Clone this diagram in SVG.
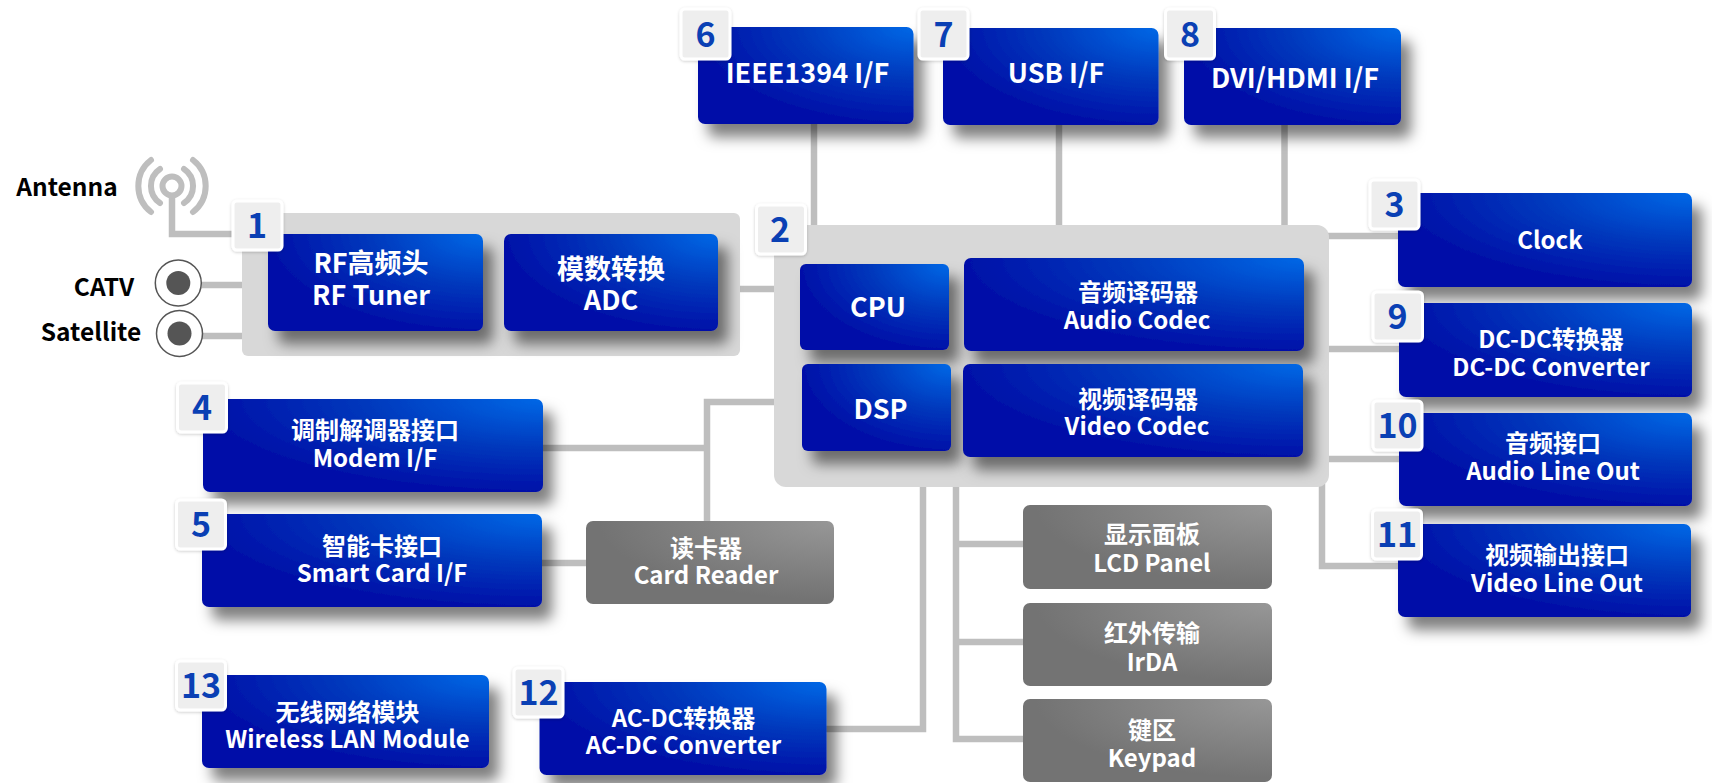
<svg xmlns="http://www.w3.org/2000/svg" width="1712" height="783" viewBox="0 0 1712 783">
<style>
text{font-family:"Noto Sans CJK SC","Noto Sans",sans-serif;font-weight:700;text-anchor:middle;fill:#fff;font-size:24px}
.big{font-size:27px}
.lab{fill:#000;font-size:24.500px}
.num{fill:#0a40b4;font-size:34px}
.b{fill:url(#blue);filter:url(#sh)}
.g{fill:url(#gray)}
.panel{fill:#d8d8d8}
.badge{fill:#eeeeee;stroke:#fff;stroke-width:3;filter:url(#bs)}
.c{fill:none;stroke:#bebebe;stroke-width:6.5}
.a{fill:none;stroke:#bebebe;stroke-width:6;stroke-linecap:round}
</style>
<defs>
<radialGradient id="blue" cx="1" cy="0" r="1.050"><stop offset="0" stop-color="#0068e6"/><stop offset=".5" stop-color="#0238bc"/><stop offset=".95" stop-color="#0010a8"/></radialGradient>
<radialGradient id="gray" cx="1" cy="0" r="1"><stop offset="0" stop-color="#979797"/><stop offset=".95" stop-color="#737373"/></radialGradient>
<filter id="sh" x="-10%" y="-10%" width="130%" height="170%"><feDropShadow dx="10" dy="13" stdDeviation="7" flood-color="#000" flood-opacity=".5"/></filter>
<filter id="bs" x="-20%" y="-20%" width="140%" height="140%"><feDropShadow dx="0" dy="1" stdDeviation="1.500" flood-color="#000" flood-opacity=".2"/></filter>
</defs>
<rect width="1712" height="783" fill="#fff"/>
<g id="connectors">
<path class="c" d="M172 197V234H235M202 285H245M202 336H245M740 289H776M814 124V228M1059 125V228M1284.500 125V228M1326 236H1400M1326 349H1400M1326 459H1400M1322 484V566H1400M776 402H707V524M543 448H707M542 563H588M923 484V729H826M956 484V739H1025M956 544H1025M956 642H1025"/>
</g>
<g id="antenna-icon">
<circle cx="172" cy="186" r="9.500" class="a"/>
<path class="a" d="M160 169A20.500 20.500 0 0 0 160 203M184 169A20.500 20.500 0 0 1 184 203M151 160A33 33 0 0 0 151 212M193 160A33 33 0 0 1 193 212"/>
<text class="lab" x="67" y="196">Antenna</text>
</g>
<g id="catv"><circle cx="178.300" cy="283" r="23" fill="#fff" stroke="#555" stroke-width="1.500"/><circle cx="178.300" cy="283" r="12" fill="#555"/><text class="lab" x="104" y="296">CATV</text></g>
<g id="satellite"><circle cx="179.500" cy="333.500" r="23" fill="#fff" stroke="#555" stroke-width="1.500"/><circle cx="179.500" cy="333.500" r="12" fill="#555"/><text class="lab" x="91" y="341">Satellite</text></g>

<g id="node-1">
<rect class="panel" x="242" y="213" width="498" height="143" rx="6"/>
<rect class="b" x="268" y="234" width="215" height="97" rx="7"/>
<text class="big" x="371" y="273">RF高频头</text><text class="big" x="371" y="305">RF Tuner</text>
<rect class="b" x="504" y="234" width="214" height="97" rx="7"/>
<text class="big" x="611" y="279">模数转换</text><text class="big" x="611" y="310">ADC</text>
<rect class="badge" x="233" y="201" width="49" height="49" rx="4"/><text class="num" x="257" y="238">1</text>
</g>
<g id="node-2">
<rect class="panel" x="774" y="225" width="555" height="262" rx="12"/>
<rect class="b" x="800" y="264" width="149" height="86" rx="6"/><text class="big" x="878" y="317">CPU</text>
<rect class="b" x="964" y="258" width="340" height="93" rx="7"/>
<text x="1138" y="301">音频译码器</text><text x="1137" y="329">Audio Codec</text>
<rect class="b" x="802" y="364" width="149" height="87" rx="6"/><text class="big" x="880.500" y="419">DSP</text>
<rect class="b" x="963" y="364" width="340" height="93" rx="7"/>
<text x="1138" y="408">视频译码器</text><text x="1137" y="435">Video Codec</text>
<rect class="badge" x="756.500" y="205" width="49" height="49" rx="4"/><text class="num" x="780" y="242">2</text>
</g>
<g id="node-3"><rect class="b" x="1398" y="193" width="294" height="94" rx="7"/><text x="1550" y="249">Clock</text><rect class="badge" x="1370" y="180" width="49" height="49" rx="4"/><text class="num" x="1394.500" y="217">3</text></g>
<g id="node-4"><rect class="b" x="203" y="399" width="340" height="93" rx="7"/><text x="375" y="439">调制解调器接口</text><text x="375" y="467">Modem I/F</text><rect class="badge" x="177.500" y="383" width="49" height="49" rx="4"/><text class="num" x="202" y="420">4</text></g>
<g id="node-5"><rect class="b" x="202" y="514" width="340" height="93" rx="7"/><text x="382" y="555">智能卡接口</text><text x="382" y="582">Smart Card I/F</text><rect class="badge" x="176.500" y="500" width="49" height="49" rx="4"/><text class="num" x="201" y="537">5</text></g>
<g id="node-6"><rect class="b" x="698" y="27" width="215.500" height="97" rx="7"/><text class="big" x="807.500" y="83">IEEE1394 I/F</text><rect class="badge" x="681" y="9" width="49" height="50" rx="4"/><text class="num" x="705.500" y="47">6</text></g>
<g id="node-7"><rect class="b" x="943" y="28" width="215.500" height="97" rx="7"/><text class="big" x="1056" y="83">USB I/F</text><rect class="badge" x="919" y="9" width="49" height="50" rx="4"/><text class="num" x="943.500" y="47">7</text></g>
<g id="node-8"><rect class="b" x="1184" y="28" width="217" height="97" rx="7"/><text class="big" x="1295" y="88">DVI/HDMI I/F</text><rect class="badge" x="1165.500" y="9" width="49" height="50" rx="4"/><text class="num" x="1190" y="47">8</text></g>
<g id="node-9"><rect class="b" x="1399" y="303" width="293" height="94" rx="7"/><text x="1551" y="348">DC-DC转换器</text><text x="1551" y="376">DC-DC Converter</text><rect class="badge" x="1373" y="292" width="49.500" height="49" rx="4"/><text class="num" x="1397.500" y="329">9</text></g>
<g id="node-10"><rect class="b" x="1399" y="413" width="293" height="93" rx="7"/><text x="1553" y="452">音频接口</text><text x="1553" y="480">Audio Line Out</text><rect class="badge" x="1373" y="401" width="49" height="49" rx="4"/><text class="num" x="1397.500" y="438">10</text></g>
<g id="node-11"><rect class="b" x="1398" y="524" width="293" height="93" rx="7"/><text x="1557" y="564">视频输出接口</text><text x="1557" y="592">Video Line Out</text><rect class="badge" x="1372.500" y="510" width="49" height="49" rx="4"/><text class="num" x="1397" y="547">11</text></g>
<g id="node-12"><rect class="b" x="539.500" y="682" width="287" height="93" rx="7"/><text x="683.500" y="727">AC-DC转换器</text><text x="683.500" y="754">AC-DC Converter</text><rect class="badge" x="514" y="668" width="49" height="49" rx="4"/><text class="num" x="538.500" y="705">12</text></g>
<g id="node-13"><rect class="b" x="202" y="675" width="287" height="93" rx="7"/><text x="347.500" y="721">无线网络模块</text><text x="347.500" y="748">Wireless LAN Module</text><rect class="badge" x="176.500" y="661" width="49" height="49" rx="4"/><text class="num" x="201" y="698">13</text></g>
<g id="card-reader"><rect class="g" x="586" y="521" width="248" height="83" rx="7"/><text x="706" y="557">读卡器</text><text x="706" y="584">Card Reader</text></g>
<g id="lcd"><rect class="g" x="1023" y="505" width="249" height="84" rx="7"/><text x="1152" y="543">显示面板</text><text x="1152" y="572">LCD Panel</text></g>
<g id="irda"><rect class="g" x="1023" y="603" width="249" height="83" rx="7"/><text x="1152" y="642">红外传输</text><text x="1152" y="671">IrDA</text></g>
<g id="keypad"><rect class="g" x="1023" y="699" width="249" height="83" rx="7"/><text x="1152" y="739">键区</text><text x="1152" y="767">Keypad</text></g>
</svg>
